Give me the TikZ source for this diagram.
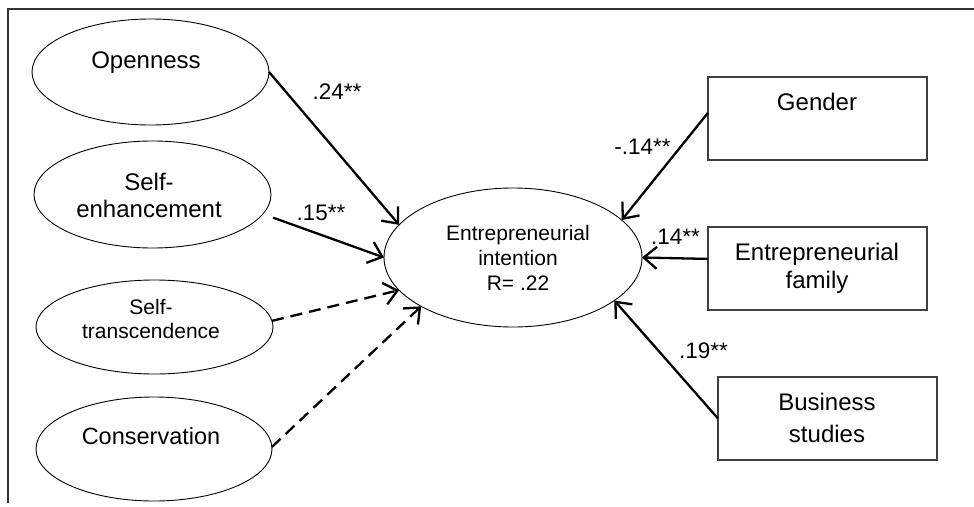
\documentclass[tikz,border=0pt]{standalone}
\usepackage{fontspec}
\setmainfont{Liberation Sans}
\usetikzlibrary{shapes.geometric,arrows.meta}
\tikzset{
  oval/.style={draw=black, ellipse, inner sep=0pt, outer sep=0pt, line width=0.9pt},
  box/.style={draw=black!75, rectangle, inner sep=0pt, outer sep=0pt, line width=1.1pt, minimum width=219pt, minimum height=83pt},
  txt/.style={anchor=base, align=center, inner sep=0pt},
  coef/.style={anchor=base, inner sep=0pt, font=\fontsize{22.5}{26}\selectfont},
  path/.style={line width=2.3pt, -{Straight Barb[length=13pt,width=22pt,line width=2.3pt]}},
  ns/.style={path, dash pattern=on 12pt off 7pt},
  frame/.style={draw=black!80, line width=1.1pt}
}
\begin{document}
\begin{tikzpicture}[x=1pt,y=-1pt]
\useasboundingbox (0,0) rectangle (974,506);
\draw[frame] (974,9) -- (8,9) -- (8,503);

% shapes
\node[oval, minimum width=237pt, minimum height=106pt] (open) at (150.5,72) {};
\node[oval, minimum width=237pt, minimum height=107pt] (se) at (152.5,194.5) {};
\node[oval, minimum width=237pt, minimum height=94pt] (st) at (154.5,327) {};
\node[oval, minimum width=236pt, minimum height=104pt] (con) at (154,449) {};
\node[oval, minimum width=258pt, minimum height=139pt] (ei) at (513,257.5) {};
\node[box] (gen) at (817.5,118.5) {};
\node[box] (fam) at (817.5,268.5) {};
\node[box] (bus) at (827.5,418.5) {};

% texts (base anchor = baseline of the last line)
\node[txt, font=\fontsize{24}{27}\selectfont] (topen) at (146,68) {Openness};
\node[txt, font=\fontsize{24}{26.7}\selectfont] (tse) at (149,217) {Self-\\enhancement};
\node[txt, font=\fontsize{21}{23.3}\selectfont] (tst) at (151,338) {Self-\\transcendence};
\node[txt, font=\fontsize{23.5}{27}\selectfont] (tcon) at (151,444) {Conservation};
\node[txt, font=\fontsize{21}{25}\selectfont] (tei) at (518,290) {Entrepreneurial\\intention\\R= .22};
\node[txt, font=\fontsize{24}{27}\selectfont] (tgen) at (817,110) {Gender};
\node[txt, font=\fontsize{24}{28}\selectfont] (tfam) at (817,288) {Entrepreneurial\\family};
\node[txt, font=\fontsize{24}{31.7}\selectfont] (tbus) at (827,442) {Business\\studies};

% connectors
\draw[path] (open.east) -- (ei.164.6);
\draw[path, shorten <=11pt] (se.-10.7) -- (ei.180);
\draw[ns] (st.3) -- (ei.196.3);
\draw[ns] (con.1) -- (ei.208.5);
\draw[path] (gen.177) -- (ei.19.6);
\draw[path] (fam.175.6) -- (ei.0);
\draw[path] (bus.west) -- (ei.-23.7);

% coefficients
\node[coef] (c1) at (337,99) {.24**};
\node[coef] (c2) at (321,220) {.15**};
\node[coef] (c3) at (642.5,154) {-.14**};
\node[coef] (c4) at (675.5,244) {.14**};
\node[coef] (c5) at (703.5,358) {.19**};
\end{tikzpicture}
\end{document}
